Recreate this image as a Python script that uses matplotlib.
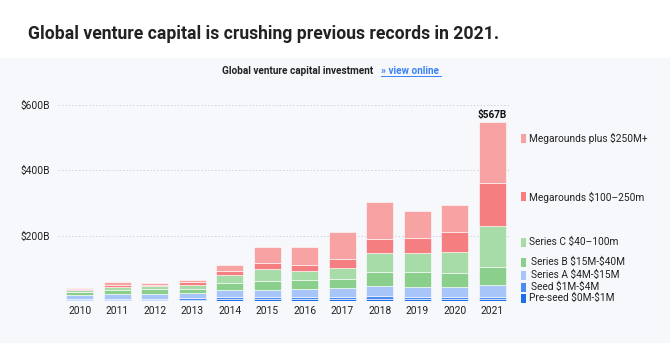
import matplotlib.pyplot as plt
from matplotlib.patches import Rectangle
import numpy as np

plt.rcParams["font.family"] = ["Roboto", "DejaVu Sans"]

years = ["2010", "2011", "2012", "2013", "2014", "2015",
         "2016", "2017", "2018", "2019", "2020", "2021"]

# $B per round stage (bottom -> top)
pre_seed   = [2, 2, 2, 3, 4, 4, 6, 5, 4, 5, 4, 6]
seed       = [4, 3, 4, 5, 6, 6, 6, 7, 9, 5, 6, 6]
series_a   = [13, 16, 15, 16, 22, 22, 24, 26, 33, 33, 31, 36]
series_b   = [8, 12, 15, 11, 22, 29, 26, 28, 43, 44, 43, 56]
series_c   = [6, 10, 8, 14, 24, 35, 29, 35, 57, 58, 66, 125]
mega       = [2, 6, 4, 7, 12, 20, 17, 27, 43, 48, 62, 131]
mega_plus  = [3, 8, 6, 6, 19, 49, 57, 82, 114, 83, 83, 188]

series = [
    (r"Pre-seed \$0M-\$1M", pre_seed, "#1d6fe6"),
    (r"Seed \$1M-\$4M", seed, "#4b8cf3"),
    (r"Series A \$4M-\$15M", series_a, "#a8c5fa"),
    (r"Series B \$15M-\$40M", series_b, "#8ad08c"),
    ("Series C \\$40\u2013100m", series_c, "#a7dba8"),
    ("Megarounds \\$100\u2013250m", mega, "#f57f80"),
    (r"Megarounds plus \$250M+", mega_plus, "#f8a3a3"),
]
total_label = r"\$567B"
y_ticks = [0, 200, 400, 600]
y_tick_labels = ["", r"\$200B", r"\$400B", r"\$600B"]

BG = "#f7f8fc"
fig = plt.figure(figsize=(6.7, 3.43), dpi=100)
fig.patch.set_facecolor("white")
# light panel behind the chart
fig.patches.append(Rectangle((0, 0), 1, 1 - 58 / 343, transform=fig.transFigure,
                             facecolor=BG, edgecolor="none", zorder=-5))

fig.text(28 / 670, 1 - 34 / 343,
         "Global venture capital is crushing previous records in 2021.",
         fontsize=12.7, fontweight="bold", color="#222222", va="center", ha="left")
fig.text(373 / 670, 1 - 71 / 343, "Global venture capital investment",
         fontsize=7.2, fontweight="bold", color="#222222", va="center", ha="right")
fig.text(381 / 670, 1 - 71 / 343, "\u00bb view online",
         fontsize=7.2, fontweight="bold", color="#3b82f6", va="center", ha="left")
fig.add_artist(plt.Line2D([381 / 670, 441 / 670], [1 - 75.5 / 343] * 2,
                          color="#3b82f6", linewidth=0.7))

ax = fig.add_axes([58 / 670, (343 - 300.7) / 343, (510 - 58) / 670, (300.7 - 95) / 343])
ax.set_facecolor(BG)
x = np.arange(len(years))
bottom = np.zeros(len(years))
for name, vals, color in series:
    ax.bar(x, vals, bottom=bottom, width=0.72, color=color,
           edgecolor="#ffffff", linewidth=0.4, zorder=3)
    bottom += np.array(vals)

ax.text(x[-1], bottom[-1] + 6, total_label, ha="center", va="bottom",
        fontsize=7.2, fontweight="bold", color="#111111")

ax.set_xlim(-0.58, 11.47)
ax.set_ylim(0, 631)
ax.set_yticks(y_ticks)
ax.set_yticklabels(y_tick_labels)
ax.set_xticks(x)
ax.set_xticklabels(years)
ax.tick_params(axis="both", length=0, labelsize=7.4, colors="#222222")
ax.tick_params(axis="x", pad=4)
ax.tick_params(axis="y", pad=6)
ax.grid(axis="y", linestyle=(0, (1.5, 2)), color="#cfd3da", linewidth=0.7, zorder=0)
for s in ax.spines.values():
    s.set_visible(False)

# legend on the right, top entry first
legend_y = [138, 197, 242, 262, 275, 287, 298]
legend_x = [529, 529, 529, 531, 531, 531, 529]
for (name, vals, color), ly, lx in zip(series[::-1], legend_y, legend_x):
    fig.patches.append(Rectangle((521 / 670, 1 - (ly + 4.5) / 343), 4.5 / 670, 9 / 343,
                                 transform=fig.transFigure, facecolor=color,
                                 edgecolor="none"))
    fig.text(lx / 670, 1 - ly / 343, name, fontsize=7.3, color="#222222",
             va="center", ha="left")

fig.savefig("out.png", dpi=100, facecolor=fig.get_facecolor())
